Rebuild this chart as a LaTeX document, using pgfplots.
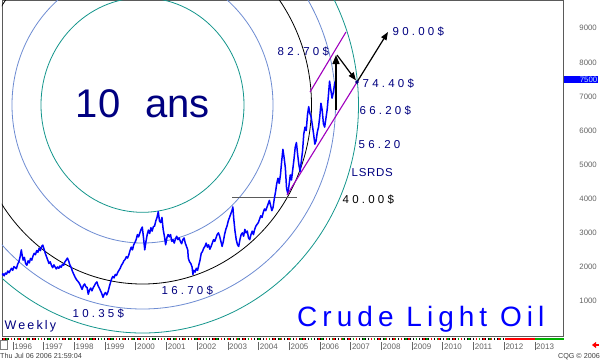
\documentclass[border=0pt]{standalone}
\usepackage{fontspec}
\setmainfont{Liberation Sans}
\usepackage{pgfplots}
\usepackage{pgfplotstable}
\pgfplotsset{compat=1.18}
\usetikzlibrary{arrows.meta}
\definecolor{navy}{RGB}{0,0,128}
\definecolor{cqblue}{RGB}{0,0,255}
\definecolor{tealc}{RGB}{20,150,140}
\definecolor{steel}{RGB}{110,140,210}
\definecolor{purp}{RGB}{160,0,190}
\definecolor{axgray}{RGB}{90,90,90}
\definecolor{lblgray}{RGB}{100,100,100}
\newcommand{\yr}[1]{\rule[-1.2pt]{0.5pt}{8pt}\hspace{1.2pt}#1}
\newcommand{\pl}[1]{{\fontsize{11.5}{12}\selectfont\addfontfeatures{LetterSpace=28}#1}}

\pgfplotstableread{
x y
1995.65 1760
1995.69 1800
1995.73 1740
1995.77 1820
1995.81 1790
1995.85 1880
1995.89 1830
1995.93 1900
1995.97 1960
1996.01 1900
1996.05 2010
1996.09 1980
1996.13 1950
1996.17 2080
1996.21 2150
1996.25 2300
1996.29 2500
1996.31 2380
1996.35 2200
1996.39 2280
1996.43 2100
1996.47 2050
1996.51 2180
1996.55 2120
1996.59 2250
1996.63 2200
1996.67 2320
1996.71 2400
1996.75 2360
1996.79 2480
1996.83 2430
1996.87 2550
1996.91 2480
1996.95 2600
1996.99 2640
1997.03 2520
1997.07 2400
1997.11 2300
1997.15 2200
1997.19 2100
1997.23 2150
1997.27 2050
1997.31 1980
1997.35 2060
1997.39 2000
1997.43 1940
1997.47 2000
1997.51 1960
1997.55 2030
1997.59 1990
1997.63 2080
1997.67 2050
1997.71 2150
1997.75 2200
1997.79 2260
1997.83 2180
1997.87 2060
1997.91 1990
1997.95 1880
1997.99 1800
1998.03 1720
1998.07 1650
1998.11 1600
1998.15 1560
1998.19 1500
1998.23 1420
1998.27 1340
1998.31 1450
1998.35 1500
1998.39 1420
1998.43 1400
1998.47 1200
1998.51 1320
1998.55 1380
1998.59 1300
1998.63 1390
1998.67 1450
1998.71 1520
1998.75 1560
1998.79 1450
1998.83 1380
1998.87 1300
1998.91 1220
1998.95 1110
1998.99 1200
1999.03 1250
1999.07 1180
1999.11 1260
1999.15 1400
1999.19 1530
1999.23 1650
1999.27 1720
1999.31 1680
1999.35 1780
1999.39 1750
1999.43 1840
1999.47 1900
1999.51 1960
1999.55 2050
1999.59 2100
1999.63 2180
1999.67 2220
1999.71 2300
1999.75 2260
1999.79 2350
1999.83 2480
1999.87 2580
1999.91 2500
1999.95 2650
1999.99 2720
2000.03 2800
2000.07 2950
2000.11 2880
2000.15 3000
2000.19 3100
2000.23 3170
2000.27 2850
2000.31 2500
2000.35 2750
2000.39 2950
2000.43 3080
2000.47 2980
2000.51 3150
2000.55 3050
2000.59 3180
2000.63 3200
2000.67 3350
2000.71 3450
2000.75 3620
2000.79 3350
2000.83 3300
2000.87 3450
2000.91 3100
2000.95 2900
2000.99 2650
2001.03 2850
2001.07 2950
2001.11 2880
2001.15 2950
2001.19 2750
2001.23 2800
2001.27 2700
2001.31 2820
2001.35 2900
2001.39 2800
2001.43 2850
2001.47 2750
2001.51 2680
2001.55 2800
2001.59 2850
2001.63 2700
2001.67 2600
2001.71 2500
2001.73 2250
2001.77 2150
2001.81 2100
2001.85 2000
2001.88 1780
2001.91 1900
2001.95 1850
2001.99 1960
2002.03 1900
2002.07 2050
2002.11 2200
2002.15 2400
2002.19 2450
2002.23 2550
2002.27 2600
2002.31 2700
2002.35 2580
2002.39 2650
2002.43 2520
2002.47 2600
2002.51 2700
2002.55 2800
2002.59 2750
2002.63 2850
2002.67 2950
2002.71 3000
2002.75 2900
2002.79 2750
2002.83 2600
2002.87 2750
2002.91 2950
2002.95 3100
2002.99 3200
2003.03 3350
2003.07 3450
2003.11 3550
2003.15 3650
2003.18 3760
2003.21 3400
2003.25 3050
2003.29 2800
2003.33 2650
2003.37 2600
2003.41 2800
2003.45 2950
2003.49 3000
2003.53 2900
2003.57 3100
2003.61 3000
2003.65 3050
2003.69 2850
2003.73 2800
2003.77 2950
2003.81 3050
2003.85 2950
2003.89 3100
2003.93 3200
2003.97 3250
2004.01 3300
2004.05 3400
2004.09 3500
2004.13 3450
2004.17 3600
2004.21 3700
2004.25 3650
2004.29 3750
2004.33 3850
2004.37 3950
2004.41 3800
2004.45 3650
2004.49 3750
2004.53 4000
2004.57 4200
2004.61 4450
2004.65 4600
2004.69 4450
2004.73 4700
2004.77 5100
2004.81 5450
2004.85 5200
2004.89 4900
2004.93 4300
2004.97 4150
2005.01 4400
2005.05 4700
2005.09 4550
2005.13 4850
2005.17 5150
2005.21 5500
2005.25 5650
2005.29 5300
2005.33 5000
2005.37 4800
2005.41 5100
2005.45 5400
2005.49 5900
2005.53 6100
2005.57 6000
2005.61 6450
2005.65 6700
2005.69 6500
2005.73 6400
2005.77 6150
2005.81 5900
2005.85 5600
2005.89 5700
2005.93 5950
2005.97 6100
2006.01 6400
2006.05 6800
2006.09 6600
2006.13 6200
2006.17 6100
2006.21 6350
2006.25 6600
2006.29 7000
2006.33 7450
2006.37 7200
2006.41 6950
2006.45 7100
2006.49 7350
2006.51 7440
}\oil

\begin{document}
\begin{tikzpicture}
\path[use as bounding box, fill=white] (-2pt,-24pt) rectangle (598pt,336pt);
\begin{axis}[
  scale only axis, width=561.5pt, height=336pt,
  xmin=1995.66, xmax=2013.95, ymin=-26, ymax=9829,
  axis line style={draw=axgray, line width=0.8pt},
  major tick length=0pt,
  xtick={1996,1997,1998,1999,2000,2001,2002,2003,2004,2005,2006,2007,2008,2009,2010,2011,2012,2013},
  xticklabels={\yr{1996},\yr{1997},\yr{1998},\yr{1999},\yr{2000},\yr{2001},\yr{2002},\yr{2003},\yr{2004},\yr{2005},\yr{2006},\yr{2007},\yr{2008},\yr{2009},\yr{2010},\yr{2011},\yr{2012},\yr{2013}},
  xticklabel style={anchor=north west, inner sep=0pt, yshift=-6pt, font=\fontsize{8}{8}\selectfont, text=lblgray},
  ytick={1000,2000,3000,4000,5000,6000,7000,8000,9000},
  yticklabels={1000,2000,3000,4000,5000,6000,7000,8000,9000},
  yticklabel pos=right,
  yticklabel style={anchor=east, inner sep=0pt, xshift=33.5pt, font=\fontsize{7.8}{8}\selectfont, text=lblgray},
  extra y ticks={7500},
  extra y tick labels={7500},
  extra y tick style={yticklabel style={fill=cqblue, text=cyan!25!white, text width=33pt, align=right, inner xsep=0.6pt, inner ysep=0.9pt, xshift=1pt}},
]
% circles
\draw[tealc, line width=0.8pt] (axis cs:2000.2365,6749) ellipse [x radius=101.5pt, y radius=107.3pt];
\draw[steel, line width=0.8pt] (axis cs:2000.2365,6749) ellipse [x radius=130.5pt, y radius=138pt];
\draw[black, line width=0.8pt] (axis cs:2000.2365,6749) ellipse [x radius=169pt, y radius=179pt];
\draw[steel, line width=0.8pt] (axis cs:2000.2365,6749) ellipse [x radius=193pt, y radius=204pt];
\draw[tealc, line width=0.8pt] (axis cs:2000.2365,6749) ellipse [x radius=216pt, y radius=228pt];
% horizontal line 40
\draw[axgray, line width=0.8pt] (axis cs:2003.152,4050) -- (axis cs:2005.269,4050);
% price
\addplot[cqblue, line width=1.5pt, line join=round] table[x=x,y=y] {\oil};
% channel
\draw[purp, line width=1.1pt] (axis cs:2005.6926,7130) -- (axis cs:2006.865,8890);
\draw[purp, line width=1.1pt] (axis cs:2004.943,4109) -- (axis cs:2007.2235,7423);
% arrows
\draw[black, line width=1.6pt, -{Triangle[length=9pt,width=7pt]}] (axis cs:2006.5395,6602) -- (axis cs:2006.5395,8215);
\draw[black, line width=1.2pt, -{Triangle[length=8pt,width=6pt]}] (axis cs:2006.572,8215) -- (axis cs:2007.19,7470);
\draw[black, line width=1.2pt, -{Triangle[length=8pt,width=6pt]}] (axis cs:2007.2235,7423) -- (axis cs:2008.233,8890);
\addplot[only marks, mark=*, mark size=1.6pt, navy] coordinates {(2007.2235,7423)};
% texts
\node[anchor=base west, inner sep=0pt, text=navy, font=\fontsize{40}{40}\selectfont] at (axis cs:1998.057,6397) {10\hspace{25pt}ans};
\node[anchor=base west, inner sep=0pt, text=navy] at (axis cs:1995.741,179) {{\fontsize{12.5}{13}\selectfont\addfontfeatures{LetterSpace=17}Weekly}};
\node[anchor=base west, inner sep=0pt, text=navy] at (axis cs:1997.956,531) {\pl{10.35\$}};
\node[anchor=base west, inner sep=0pt, text=navy] at (axis cs:2000.855,1205) {\pl{16.70\$}};
\node[anchor=base west, inner sep=0pt, text=navy] at (axis cs:2004.634,8215) {\pl{82.70\$}};
\node[anchor=base west, inner sep=0pt, text=navy] at (axis cs:2007.403,7277) {\pl{74.40\$}};
\node[anchor=base west, inner sep=0pt, text=navy] at (axis cs:2007.305,6485) {\pl{66.20\$}};
\node[anchor=base west, inner sep=0pt, text=navy] at (axis cs:2007.272,5488) {\pl{56.20}};
\node[anchor=base west, inner sep=0pt, text=navy] at (axis cs:2007.044,4666) {{\fontsize{11.5}{12}\selectfont\addfontfeatures{LetterSpace=6}LSRDS}};
\node[anchor=base west, inner sep=0pt, text=black] at (axis cs:2006.751,3874) {\pl{40.00\$}};
\node[anchor=base west, inner sep=0pt, text=navy] at (axis cs:2008.380,8802) {\pl{90.00\$}};
\node[anchor=base west, inner sep=0pt, text=cqblue] at (axis cs:2005.269,267) {{\fontsize{28}{28}\selectfont\addfontfeatures{LetterSpace=18}Crude Light Oil}};
\end{axis}
% time strip decorations
\draw[black, line width=1.4pt, dash pattern=on 1pt off 2pt] (0pt,-3pt) -- (503pt,-3pt);
\draw[red, line width=1.4pt, dash pattern=on 1.5pt off 6pt] (1pt,-3pt) -- (503pt,-3pt);
\draw[green!60!black, line width=1.4pt, dash pattern=on 1.5pt off 9pt] (4pt,-3pt) -- (503pt,-3pt);
\draw[red, line width=1.4pt] (503pt,-3pt) -- (533pt,-3pt);
\draw[green!70!black, line width=1.4pt] (533pt,-3pt) -- (562pt,-3pt);
\draw[gray, fill=white, line width=0.6pt] (-1.5pt,-4.5pt) rectangle (5pt,-13pt);
\draw[red, line width=2pt, -{Triangle[length=4pt,width=6pt]}] (597pt,-9pt) -- (590pt,-9pt);
\node[anchor=base west, inner sep=0pt, text=darkgray, font=\fontsize{7.2}{8}\selectfont] at (-2pt,-22.5pt) {Thu Jul 06 2006 21:59:04};
\node[anchor=base east, inner sep=0pt, text=darkgray, font=\fontsize{7.2}{8}\selectfont] at (598pt,-22.5pt) {CQG © 2006};
\end{tikzpicture}
\end{document}
